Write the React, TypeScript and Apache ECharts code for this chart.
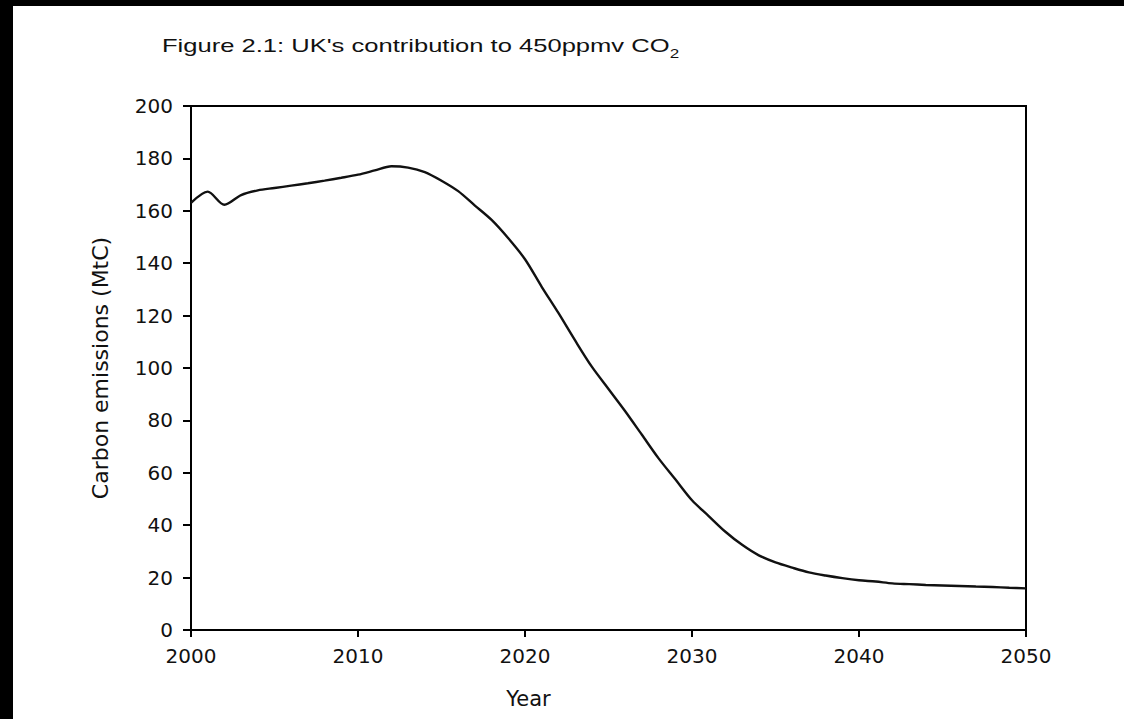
import { useEffect, useRef } from "react";
import * as echarts from "echarts";

const titleMain = "Figure 2.1: UK's contribution to 450ppmv CO";
const titleSub = "2";
const xName = "Year";
const yName = "Carbon emissions (MtC)";

const years = [
  2000, 2001, 2002, 2003, 2004, 2005, 2006, 2007, 2008, 2009,
  2010, 2011, 2012, 2013, 2014, 2015, 2016, 2017, 2018, 2019,
  2020, 2021, 2022, 2023, 2024, 2025, 2026, 2027, 2028, 2029,
  2030, 2031, 2032, 2033, 2034, 2035, 2036, 2037, 2038, 2039,
  2040, 2041, 2042, 2043, 2044, 2045, 2046, 2047, 2048, 2049,
  2050,
];

const emissions = [
  163.0, 167.3, 162.3, 166.0, 167.8, 168.7, 169.6, 170.5, 171.5, 172.6,
  173.8, 175.4, 177.0, 176.5, 174.8, 171.5, 167.5, 162.0, 156.5, 149.5,
  141.5, 131.0, 121.0, 110.5, 100.5, 92.0, 83.5, 74.5, 65.5, 57.5,
  49.5, 43.5, 37.5, 32.5, 28.5, 25.8, 23.8, 22.0, 20.8, 19.8,
  19.0, 18.5, 17.8, 17.5, 17.2, 17.0, 16.8, 16.6, 16.4, 16.1,
  15.9,
];

export default function App() {
  const ref = useRef<HTMLDivElement>(null);

  useEffect(() => {
    if (!ref.current) return;
    const chart = echarts.init(ref.current, undefined, { renderer: "svg" });
    const data = years.map((y, i) => [y, emissions[i]]);
    const tickFont = "DejaVu Sans";
    chart.setOption({
      animation: false,
      backgroundColor: "#ffffff",
      graphic: [
        {
          type: "text",
          x: 149,
          y: 31,
          scaleX: 1.42,
          style: {
            text: `{t|${titleMain}}{s|${titleSub}}`,
            verticalAlign: "top",
            align: "left",
            rich: {
              t: {
                fontSize: 18,
                fontFamily: "Liberation Sans",
                fill: "#111",
                lineHeight: 20,
                verticalAlign: "top",
              },
              s: {
                fontSize: 12,
                fontFamily: "Liberation Sans",
                fill: "#111",
                lineHeight: 12,
                padding: [11, 0, 0, 0],
                verticalAlign: "top",
              },
            },
          },
        },
      ],
      grid: {
        left: 178,
        top: 100,
        right: 98,
        bottom: 89,
        show: true,
        borderColor: "#000",
        borderWidth: 2,
        backgroundColor: "transparent",
      },
      xAxis: {
        type: "value",
        min: 2000,
        max: 2050,
        interval: 10,
        name: xName,
        nameLocation: "middle",
        nameGap: 58,
        nameTextStyle: {
          fontFamily: tickFont,
          fontSize: 21,
          color: "#111",
          padding: [0, 160, 0, 0],
        },
        axisLine: { show: true, lineStyle: { color: "#000", width: 2 } },
        axisTick: { show: true, inside: false, length: 7, lineStyle: { color: "#000", width: 2 } },
        axisLabel: {
          fontFamily: tickFont,
          fontSize: 20,
          color: "#111",
          margin: 16,
          formatter: (v: number) => String(v),
        },
        splitLine: { show: false },
      },
      yAxis: {
        type: "value",
        min: 0,
        max: 200,
        interval: 20,
        name: yName,
        nameLocation: "middle",
        nameGap: 80,
        nameRotate: 90,
        nameTextStyle: {
          fontFamily: tickFont,
          fontSize: 22,
          color: "#111",
        },
        axisLine: { show: true, lineStyle: { color: "#000", width: 2 } },
        axisTick: { show: true, inside: false, length: 8, lineStyle: { color: "#000", width: 2 } },
        axisLabel: {
          fontFamily: tickFont,
          fontSize: 20,
          color: "#111",
          margin: 18,
          formatter: (v: number) => String(v),
        },
        splitLine: { show: false },
      },
      series: [
        {
          type: "line",
          data,
          smooth: 0.3,
          showSymbol: false,
          symbol: "none",
          lineStyle: { color: "#111", width: 2.4 },
        },
      ],
    });
    return () => chart.dispose();
  }, []);

  return (
    <div
      style={{
        position: "fixed",
        left: 0,
        top: 0,
        width: 1124,
        height: 719,
        background: "#000",
      }}
    >
      <div
        ref={ref}
        style={{
          position: "absolute",
          left: 13,
          top: 6,
          width: 1111,
          height: 713,
          background: "#fff",
        }}
      />
    </div>
  );
}
